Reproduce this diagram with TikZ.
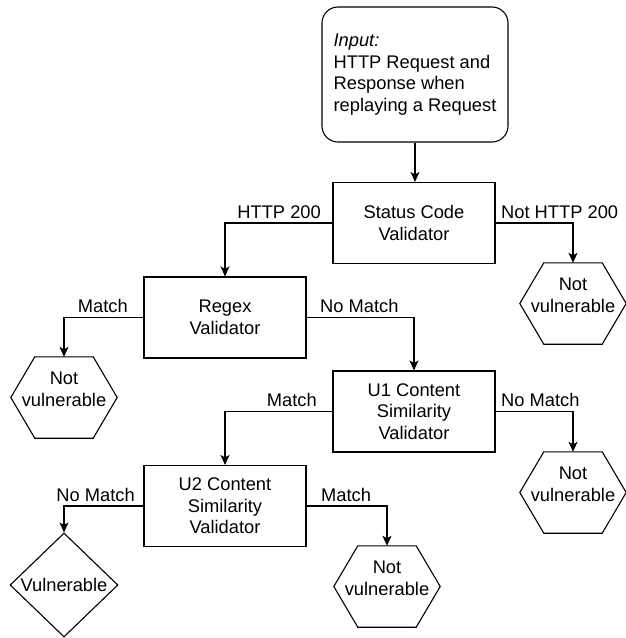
\documentclass[tikz,border=0pt]{standalone}
\usepackage{fontspec}
\setmainfont{Liberation Sans}
\usetikzlibrary{shapes.geometric,arrows.meta}
\newcommand\hexdraw[1]{\draw[lw] (#1.west) -- ([xshift=24pt]#1.north west) -- ([xshift=-24pt]#1.north east) -- (#1.east) -- ([xshift=-24pt]#1.south east) -- ([xshift=24pt]#1.south west) -- cycle;}
\begin{document}
\begin{tikzpicture}[x=1pt,y=-1pt,
  every node/.style={font=\fontsize{18.3}{21.5}\selectfont, inner sep=0pt},
  lw/.style={line width=1.1pt},
  box/.style={draw, lw, minimum width=162pt, minimum height=81pt, align=center},
  startbox/.style={draw, lw, rounded corners=16pt, minimum width=186pt, minimum height=135pt, align=left},
  hexframe/.style={minimum width=106pt, minimum height=81pt},
  hextext/.style={align=center},
  dia/.style={draw, lw, diamond, minimum width=108pt, minimum height=104pt, align=center},
  conn/.style={lw, -{Stealth[length=10pt,width=9pt,inset=2.5pt]}},
  lblL/.style={anchor=base east},
  lblR/.style={anchor=base west}
]
\useasboundingbox (0,0) rectangle (625,638);

\node[startbox] (in) at (415,74.5) {\textit{Input:}\\HTTP Request and\\Response when\\replaying a Request};
\node[box] (sc) at (414,223) {Status Code\\Validator};
\node[box] (rx) at (225,317.5) {Regex\\Validator};
\node[box] (u1) at (414,411.5) {U1 Content\\Similarity\\Validator};
\node[box] (u2) at (225,506) {U2 Content\\Similarity\\Validator};

\node[hexframe] (h1) at (573,303.5) {};
\node[hexframe] (h2) at (64,397.5) {};
\node[hexframe] (h3) at (573,492.5) {};
\node[hexframe] (h4) at (387,586.5) {};
\hexdraw{h1}
\hexdraw{h2}
\hexdraw{h3}
\hexdraw{h4}
\node[hextext] (h1t) at ([yshift=8pt]h1.center) {Not\\vulnerable};
\node[hextext] (h2t) at ([yshift=8pt]h2.center) {Not\\vulnerable};
\node[hextext] (h3t) at ([yshift=8pt]h3.center) {Not\\vulnerable};
\node[hextext] (h4t) at ([yshift=8pt]h4.center) {Not\\vulnerable};

\node[dia] (v) at (64,585) {Vulnerable};

\draw[conn] (in.south) -- (in.south |- sc.north);
\draw[conn] (sc.west) -| (rx.north);
\draw[conn] (sc.east) -| (h1.north);
\draw[conn] (rx.west) -| (h2.north);
\draw[conn] (rx.east) -| (u1.north);
\draw[conn] (u1.west) -| (u2.north);
\draw[conn] (u1.east) -| (h3.north);
\draw[conn] (u2.west) -| (v.north);
\draw[conn] (u2.east) -| (h4.north);

\node[lblL] (l1) at (321,218) {HTTP 200};
\node[lblR] (l2) at (501,218) {Not HTTP 200};
\node[lblL] (l3) at (128,312) {Match};
\node[lblR] (l4) at (320,312) {No Match};
\node[lblL] (l5) at (317,406) {Match};
\node[lblR] (l6) at (501,406) {No Match};
\node[lblL] (l7) at (135,501) {No Match};
\node[lblR] (l8) at (321,501) {Match};
\end{tikzpicture}
\end{document}
